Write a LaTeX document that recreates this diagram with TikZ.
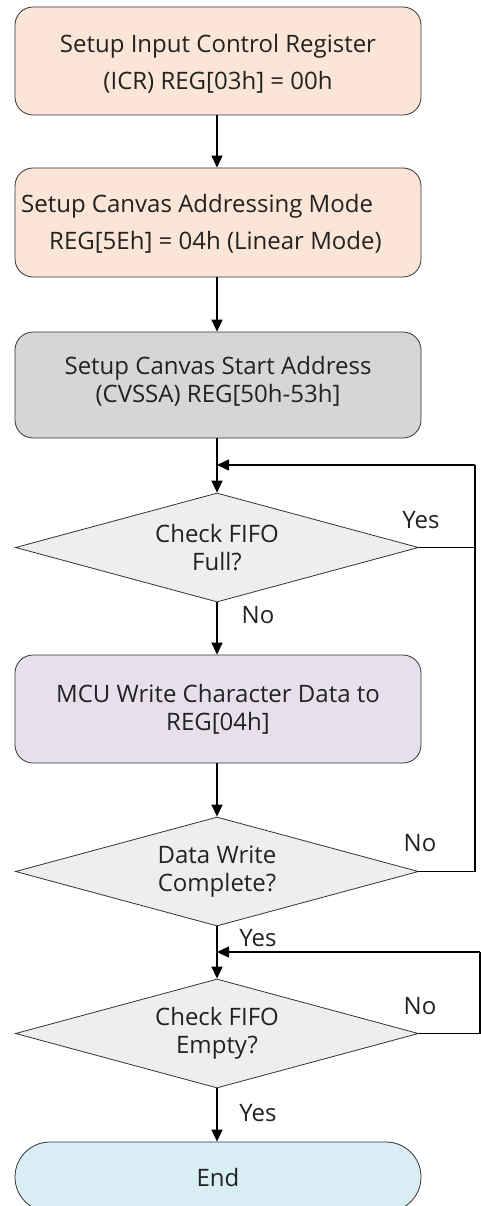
\documentclass[tikz,border=0pt]{standalone}
\usepackage{fontspec}
\setmainfont{Open Sans}
\usetikzlibrary{shapes.geometric,shapes.misc,arrows.meta}
\definecolor{peach}{HTML}{FBE5D6}
\definecolor{grayfill}{HTML}{D6D6D6}
\definecolor{lavender}{HTML}{E6E0EC}
\definecolor{dfill}{HTML}{EEEEEE}
\definecolor{endfill}{HTML}{D9EEF4}
\definecolor{txt}{HTML}{222222}
\begin{document}
\begin{tikzpicture}[x=1pt,y=-1pt,
  font=\fontsize{24}{28}\selectfont,
  every node/.style={text=txt},
  procbox/.style={draw=black!80, line width=0.8pt, rounded corners=18pt,
    minimum width=406pt, inner sep=0pt, align=center},
  decision/.style={diamond, aspect=3.7, draw=black!80, line width=0.8pt, fill=dfill,
    minimum width=403pt, minimum height=109pt, inner sep=0pt, align=center},
  endbox/.style={rounded rectangle, draw=black!80, line width=0.8pt, fill=endfill,
    minimum width=406pt, minimum height=70pt, inner sep=0pt},
  flow/.style={line width=1.5pt, -{Triangle[length=12pt,width=11pt]}},
  plain/.style={line width=1.5pt},
  lbl/.style={inner sep=0pt}
]
\useasboundingbox (0,0) rectangle (481,1206);
\fill[white] (0,0) rectangle (481,1206);

\node[procbox, fill=peach, minimum height=108pt] (b1) at (218,61) {};
\node[align=center, inner sep=0pt] (b1t) at (218,63.5)
  {Setup Input Control Register\\[9pt](ICR) REG[03h] = 00h};
\node[procbox, fill=peach, minimum height=109pt] (b2) at (218,222.5) {};
\node[align=left, anchor=west, inner sep=0pt] (b2t) at (21,223.5)
  {Setup Canvas Addressing Mode\\[9pt]\hspace{28pt}REG[5Eh] = 04h (Linear Mode)};
\node[procbox, fill=grayfill, minimum height=106pt] (b3) at (218,385) {};
\node[align=center, inner sep=0pt] (b3t) at (218,381)
  {Setup Canvas Start Address\\(CVSSA) REG[50h-53h]};
\node[decision] (d1) at (217,547.5) {Check FIFO\\Full?};
\node[procbox, fill=lavender, minimum height=108pt] (b4) at (218,709)
  {MCU Write Character Data to\\REG[04h]};
\node[decision] (d2) at (217,871.5) {Data Write\\Complete?};
\node[decision] (d3) at (217,1033.5) {Check FIFO\\Empty?};
\node[endbox] (e) at (218,1177) {End};

\coordinate (j1) at (217,465);
\coordinate (r1) at (475,465);
\coordinate (j2) at (217,952);
\coordinate (r2) at (480,952);

\draw[flow] (b1.south -| 217,0) -- (b2.north -| 217,0);
\draw[flow] (b2.south -| 217,0) -- (b3.north -| 217,0);
\draw[flow] (b3.south -| 217,0) -- (d1.north);
\draw[flow] (d1.south) -- (b4.north -| 217,0);
\draw[flow] (b4.south -| 217,0) -- (d2.north);
\draw[flow] (d2.south) -- (d3.north);
\draw[flow] (d3.south) -- (e.north -| 217,0);

\draw[plain] (d1.east) -| (r1);
\draw[plain] (d2.east) -| (r1);
\draw[flow] (r1) -- (j1);
\draw[plain] (d3.east) -| (r2);
\draw[flow] (r2) -- (j2);

\node[lbl] (yes1) at (421,520) {Yes};
\node[lbl] (no1) at (258,615) {No};
\node[lbl] (no2) at (420,843) {No};
\node[lbl] (yes2) at (258,938) {Yes};
\node[lbl] (no3) at (420,1006) {No};
\node[lbl] (yes3) at (258,1113) {Yes};
\end{tikzpicture}
\end{document}
